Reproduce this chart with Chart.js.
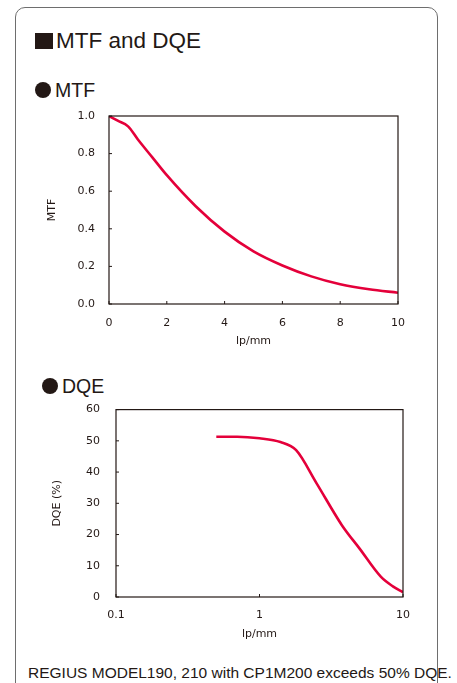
<!DOCTYPE html>
<html>
<head>
<meta charset="utf-8">
<script src="https://cdn.jsdelivr.net/npm/chart.js@4"></script>
<style>
    body { margin: 0; width: 457px; height: 683px; overflow: hidden; background: #fff; position: relative; font-family: "Liberation Sans", Arial, sans-serif; color: #231815; }
    .frame { position: absolute; left: 15px; top: 7px; width: 421px; height: 720px; border: 1.5px solid #6e6e6e; border-radius: 10px; }
    .title { position: absolute; left: 35px; top: 28px; font-size: 22.5px; line-height: 26px; white-space: nowrap; }
    .title .sq { display: inline-block; width: 18px; height: 16px; background: #231815; margin-right: 3px; vertical-align: -1px; }
    .sub { position: absolute; font-size: 19.5px; line-height: 22px; white-space: nowrap; }
    .sub .dot { display: inline-block; width: 16px; height: 16px; border-radius: 50%; background: #231815; margin-right: 4px; vertical-align: -1px; }
    .note { position: absolute; left: 28px; top: 664px; font-size: 15.5px; line-height: 18px; white-space: nowrap; }
    canvas { position: absolute; left: 0; }
</style>
</head>
<body>
<div class="frame"></div>
<div class="title"><span class="sq"></span>MTF and DQE</div>
<div class="sub" style="left:35px; top:79px;"><span class="dot"></span>MTF</div>
<div class="sub" style="left:42px; top:375px;"><span class="dot"></span>DQE</div>
<canvas id="mtfChart" width="457" height="255" style="top:100px; width:457px; height:255px;"></canvas>
<canvas id="dqeChart" width="457" height="250" style="top:395px; width:457px; height:250px;"></canvas>
<div class="note">REGIUS MODEL190, 210 with CP1M200 exceeds 50% DQE.</div>

<script>
// MTF curve (lp/mm vs MTF)
const mtfFreq = [0, 0.3, 0.66, 1, 1.5, 2, 3, 4, 5, 6, 7, 8, 9, 10];
const mtfValues = [1.0, 0.975, 0.945, 0.875, 0.78, 0.685, 0.52, 0.385, 0.28, 0.205, 0.147, 0.105, 0.078, 0.06];
const mtfXTicks = [0, 2, 4, 6, 8, 10];
const mtfYTicks = [0, 0.2, 0.4, 0.6, 0.8, 1.0];

// DQE curve (lp/mm, log scale, vs DQE %)
const dqeFreq = [0.5, 0.7, 1, 1.4, 1.8, 2.5, 3.75, 5, 7, 8.5, 10];
const dqeValues = [51.3, 51.3, 50.8, 49.6, 47.0, 36.4, 23.0, 15.4, 6.5, 3.4, 1.5];
const dqeXTicks = [0.1, 1, 10];
const dqeYTicks = [0, 10, 20, 30, 40, 50, 60];

const ink = '#231815';
const red = '#e4003a';
const axisFont = { family: '"DejaVu Sans", sans-serif', size: 11 };

// box round the plot area + short inward tick marks
const frameAndTicks = {
    id: 'frameAndTicks',
    afterDraw(chart) {
        const ctx = chart.ctx;
        const a = chart.chartArea;
        ctx.save();
        ctx.strokeStyle = ink;
        ctx.lineWidth = 1.2;
        ctx.strokeRect(a.left, a.top, a.right - a.left, a.bottom - a.top);
        ctx.lineWidth = 1;
        ctx.beginPath();
        chart.scales.x.ticks.forEach((t) => {
            const px = chart.scales.x.getPixelForValue(t.value);
            ctx.moveTo(px, a.bottom);
            ctx.lineTo(px, a.bottom - 3);
        });
        chart.scales.y.ticks.forEach((t) => {
            const py = chart.scales.y.getPixelForValue(t.value);
            ctx.moveTo(a.left, py);
            ctx.lineTo(a.left + 3, py);
        });
        ctx.stroke();
        ctx.restore();
    }
};

function makeChart(id, cfg) {
    const ctx = document.getElementById(id).getContext('2d');
    return new Chart(ctx, {
        type: 'line',
        data: {
            datasets: [{
                data: cfg.xs.map((x, i) => ({ x: x, y: cfg.ys[i] })),
                borderColor: red,
                borderWidth: 2.6,
                pointRadius: 0,
                fill: false,
                cubicInterpolationMode: 'monotone'
            }]
        },
        options: {
            responsive: false,
            animation: false,
            layout: { padding: cfg.padding },
            plugins: { legend: { display: false }, tooltip: { enabled: false } },
            scales: {
                x: {
                    type: cfg.xType,
                    min: cfg.xTicks[0],
                    max: cfg.xTicks[cfg.xTicks.length - 1],
                    afterBuildTicks: (s) => { s.ticks = cfg.xTicks.map((v) => ({ value: v })); },
                    afterFit: (s) => { s.height = cfg.xHeight; },
                    grid: { display: false },
                    border: { display: false },
                    ticks: { color: ink, font: axisFont, padding: cfg.xTickPad, maxRotation: 0, autoSkip: false,
                             callback: (v) => String(v) },
                    title: { display: true, text: 'lp/mm', color: ink, font: axisFont, padding: { top: 0, bottom: cfg.xTitlePad } }
                },
                y: {
                    min: cfg.yTicks[0],
                    max: cfg.yTicks[cfg.yTicks.length - 1],
                    afterBuildTicks: (s) => { s.ticks = cfg.yTicks.map((v) => ({ value: v })); },
                    afterFit: (s) => { s.width = cfg.yWidth; },
                    grid: { display: false },
                    border: { display: false },
                    ticks: { color: ink, font: axisFont, padding: cfg.yTickPad, callback: cfg.yFormat },
                    title: { display: true, text: cfg.yTitle, color: ink, font: axisFont, padding: { top: cfg.yTitlePad, bottom: 0 } }
                }
            }
        },
        plugins: [frameAndTicks]
    });
}

makeChart('mtfChart', {
    xs: mtfFreq, ys: mtfValues, xTicks: mtfXTicks, yTicks: mtfYTicks, xType: 'linear',
    padding: { left: 0, top: 16, right: 59, bottom: 0 },
    xHeight: 51, yWidth: 109, xTickPad: 5, xTitlePad: 7.5, yTickPad: 6, yTitlePad: 46,
    yTitle: 'MTF', yFormat: (v) => v.toFixed(1)
});

makeChart('dqeChart', {
    xs: dqeFreq, ys: dqeValues, xTicks: dqeXTicks, yTicks: dqeYTicks, xType: 'logarithmic',
    padding: { left: 0, top: 13, right: 54, bottom: 0 },
    xHeight: 48, yWidth: 116, xTickPad: 4, xTitlePad: 4.5, yTickPad: 8, yTitlePad: 51,
    yTitle: 'DQE (%)', yFormat: (v) => String(v)
});
</script>
</body>
</html>
